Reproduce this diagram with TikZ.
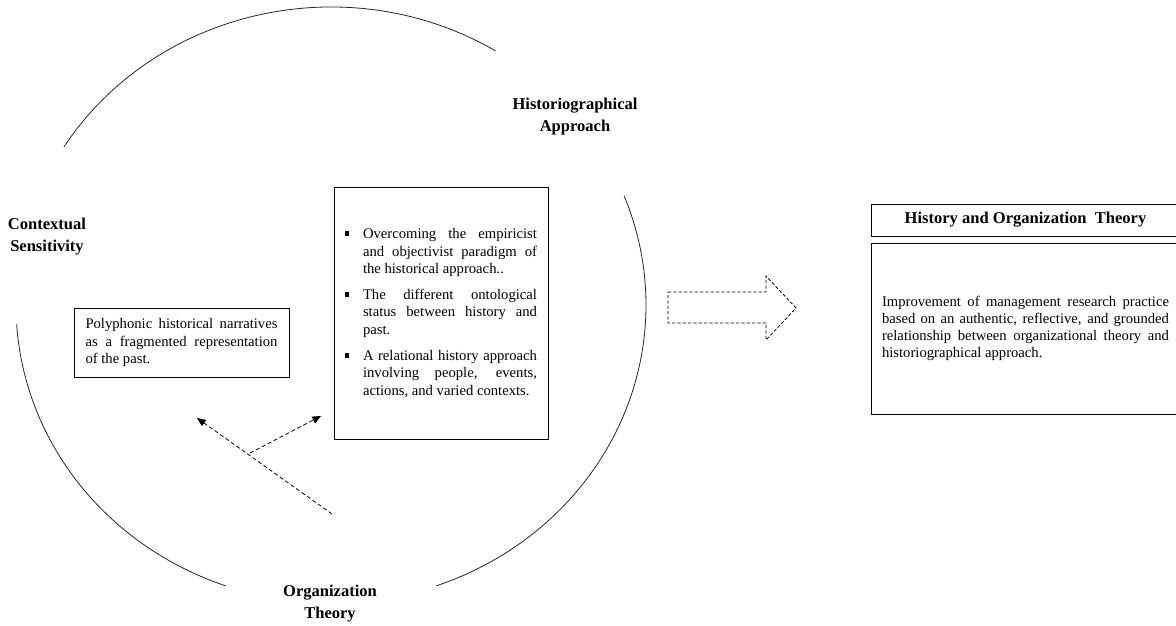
\documentclass[tikz,border=0pt]{standalone}
\usepackage{fontspec}
\setmainfont{Liberation Serif}
\usetikzlibrary{arrows.meta,calc}
\newcommand\bodyfont{\fontsize{11}{12.9}\selectfont}
\newcommand\headfont{\bfseries\fontsize{12.4}{16.5}\selectfont}
\newcommand\bitem[1]{\hangindent=13.5pt\hangafter=1\noindent\makebox[13.5pt][l]{\rule[2.2pt]{2.9pt}{3.4pt}}#1\par}
\begin{document}
\begin{tikzpicture}[x=0.75pt,y=-0.75pt,
  arcline/.style={line width=0.6pt, draw=black!85},
  boxn/.style={draw, line width=0.7pt, inner ysep=0pt, align=justify, font=\bodyfont},
  head/.style={font=\headfont, align=center, inner sep=0pt},
  dashconn/.style={line width=0.6pt, dash pattern=on 3pt off 2pt, -{Triangle[length=6.5pt,width=5.5pt]}},
  blockarrow/.style={line width=0.6pt, dash pattern=on 2.5pt off 1.5pt}]
\useasboundingbox (0,0) rectangle (1176,625);
% circle arcs
\coordinate (O) at (331,305);
\draw[arcline] ([shift={(148:236.25pt and 223.5pt)}]O) arc[start angle=148, end angle=58.5, x radius=236.25pt, y radius=223.5pt];
\draw[arcline] ([shift={(21.5:236.25pt and 223.5pt)}]O) arc[start angle=21.5, end angle=-70.5, x radius=236.25pt, y radius=223.5pt];
\draw[arcline] ([shift={(183.7:236.25pt and 223.5pt)}]O) arc[start angle=183.7, end angle=250.5, x radius=236.25pt, y radius=223.5pt];
% headings
\node[head] (ctx) at (47,237) {Contextual\\Sensitivity};
\node[head] (hap) at (575,116.5) {Historiographical\\Approach};
\node[head] (ot) at (330,604) {Organization\\Theory};
% small box
\node[boxn, text width=144pt, inner xsep=8.6pt, minimum height=51.75pt] (poly) at (181.5,342.5)
  {Polyphonic historical narratives\linebreak as a fragmented representation\linebreak of the past.};
% central box
\node[boxn, text width=144pt, inner xsep=8.25pt, minimum width=160.5pt, minimum height=189pt] (hist) at (441,313)
  {\bitem{Overcoming the empiricist\linebreak and objectivist paradigm of\linebreak the historical approach..}\vspace{7pt}%
   \bitem{The different ontological\linebreak status between history and\linebreak past.}\vspace{7pt}%
   \bitem{A relational history approach\linebreak involving people, events,\linebreak actions, and varied contexts.}};
% dashed arrows
\coordinate (a1s) at (332,514);
\coordinate (a1e) at (197,418);
\coordinate (a2s) at (250,453);
\coordinate (a2e) at (321,416);
\draw[dashconn] (a1s) -- (a1e);
\draw[dashconn] (a2s) -- (a2e);
% block arrow
\draw[blockarrow] (668,292) -- (766,292) -- (766,276) -- (796,308) -- (766,340) -- (766,323) -- (668,323) -- cycle;
% right boxes
\node[draw, line width=0.7pt, minimum width=231.75pt, minimum height=24pt, font=\headfont, inner sep=0pt] (hot) at (1025.5,220)
  {History and Organization\ \ Theory};
\node[boxn, text width=215.25pt, inner xsep=8.25pt, minimum height=128.25pt] (imp) at (1025.5,328.5)
  {Improvement of management research practice\linebreak based on an authentic, reflective, and grounded\linebreak relationship between organizational theory and\linebreak historiographical approach.};
\end{tikzpicture}
\end{document}
